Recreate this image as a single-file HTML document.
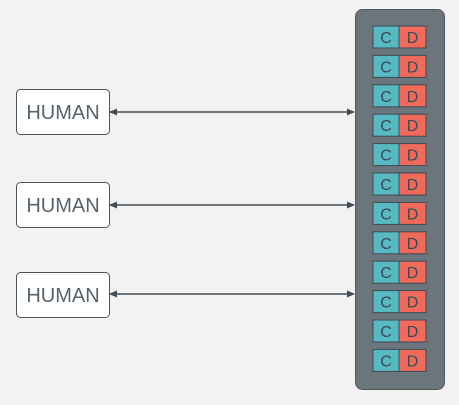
<!DOCTYPE html><html><head><style>body{margin:0;background:#f2f2f2}</style></head><body>
<svg width="459" height="400" xmlns="http://www.w3.org/2000/svg" font-family="Liberation Sans, sans-serif">
<rect width="459" height="400" fill="#f2f2f2"/>
<defs><marker id="a" markerWidth="8" markerHeight="8" refX="7" refY="4" orient="auto-start-reverse" markerUnits="userSpaceOnUse"><path d="M0,0.5 L8,4 L0,7.5 Z" fill="#414c55"/></marker>
<g id="r"><rect x="373" y="26" width="26" height="22" fill="#56b9c4" stroke="#3e4a50"/><rect x="399" y="26" width="27" height="22" fill="#f06a5c" stroke="#3e4a50"/><text x="386" y="43">C</text><text x="412.5" y="43">D</text></g></defs>
<rect x="355.5" y="9.5" width="89" height="380" rx="7" fill="#6b767c" stroke="#4f5a60"/>
<g font-size="16" text-anchor="middle" fill="#3a4a52">
<use href="#r"/>
<use href="#r" y="29.4"/>
<use href="#r" y="58.8"/>
<use href="#r" y="88.2"/>
<use href="#r" y="117.6"/>
<use href="#r" y="147"/>
<use href="#r" y="176.4"/>
<use href="#r" y="205.8"/>
<use href="#r" y="235.2"/>
<use href="#r" y="264.6"/>
<use href="#r" y="294"/>
<use href="#r" y="323.4"/>
</g>
<g font-size="20" fill="#59636a" text-anchor="middle">
<rect x="16.5" y="89.5" width="93" height="45" rx="4" fill="#fff" stroke="#4b555c"/><text x="63" y="119">HUMAN</text>
<rect x="16.5" y="182.5" width="93" height="45" rx="4" fill="#fff" stroke="#4b555c"/><text x="63" y="212">HUMAN</text>
<rect x="16.5" y="272.5" width="93" height="45" rx="4" fill="#fff" stroke="#4b555c"/><text x="63" y="302">HUMAN</text>
</g>
<g stroke="#414c55" stroke-width="1.5" marker-start="url(#a)" marker-end="url(#a)">
<line x1="110" y1="112" x2="354" y2="112"/><line x1="110" y1="205" x2="354" y2="205"/><line x1="110" y1="294" x2="354" y2="294"/>
</g>
</svg></body></html>
